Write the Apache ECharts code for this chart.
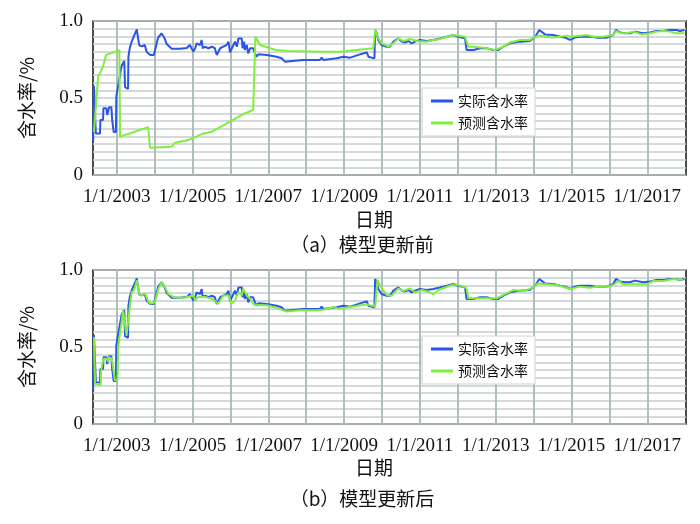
<!DOCTYPE html>
<html>
<head>
<meta charset="utf-8">
<script src="https://cdn.jsdelivr.net/npm/echarts@6/dist/echarts.min.js"></script>
<style>html,body{margin:0;padding:0;background:#fff;}#c{width:700px;height:524px;}</style>
</head>
<body>
<div id="c"></div>
<script>
// ---- data (decimal years, water cut fraction) ----
const yearTicks = [2003,2004,2005,2006,2007,2008,2009,2010,2011,2012,2013,2014,2015,2016,2017];
const yearLabels = [2003,2005,2007,2009,2011,2013,2015,2017];
const rateLabels = [0, 0.5, 1.0];

const actualYears = [2002.38,2002.40,2002.43,2002.45,2002.56,2002.57,2002.64,2002.65,2002.73,2002.75,2002.79,2002.80,2002.86,2002.88,2002.91,2002.92,2002.98,2002.99,2003.04,2003.13,2003.20,2003.22,2003.30,2003.31,2003.35,2003.40,2003.45,2003.53,2003.57,2003.60,2003.67,2003.74,2003.79,2003.88,2003.98,2004.03,2004.09,2004.18,2004.26,2004.32,2004.45,2004.67,2004.85,2004.93,2004.98,2005.02,2005.07,2005.11,2005.20,2005.24,2005.27,2005.33,2005.42,2005.51,2005.59,2005.64,2005.73,2005.81,2005.90,2005.95,2005.99,2006.03,2006.08,2006.12,2006.17,2006.21,2006.30,2006.32,2006.36,2006.38,2006.43,2006.47,2006.52,2006.60,2006.65,2006.69,2006.74,2006.96,2007.22,2007.35,2007.44,2007.49,2007.92,2008.36,2008.41,2008.45,2008.80,2008.98,2009.16,2009.42,2009.51,2009.55,2009.60,2009.64,2009.73,2009.80,2009.82,2009.86,2009.90,2009.99,2010.12,2010.21,2010.30,2010.43,2010.52,2010.61,2010.70,2010.78,2010.87,2011.00,2011.18,2011.35,2011.53,2011.71,2011.88,2012.01,2012.19,2012.23,2012.41,2012.59,2012.76,2012.94,2013.07,2013.20,2013.38,2013.64,2013.90,2014.04,2014.15,2014.30,2014.52,2014.70,2014.83,2014.96,2015.09,2015.22,2015.49,2015.66,2015.93,2016.10,2016.17,2016.28,2016.41,2016.54,2016.67,2016.89,2017.07,2017.24,2017.42,2017.59,2017.77,2017.86,2017.98];
const actualRate = [0.22,0.58,0.58,0.27,0.27,0.357,0.357,0.433,0.433,0.39,0.39,0.44,0.44,0.36,0.357,0.28,0.28,0.51,0.51,0.71,0.74,0.57,0.56,0.77,0.83,0.87,0.87,0.945,0.88,0.84,0.835,0.845,0.80,0.78,0.78,0.83,0.89,0.92,0.89,0.85,0.82,0.82,0.825,0.844,0.833,0.801,0.823,0.855,0.844,0.877,0.823,0.833,0.823,0.833,0.823,0.779,0.823,0.833,0.844,0.866,0.796,0.796,0.844,0.866,0.833,0.887,0.887,0.823,0.866,0.812,0.844,0.790,0.823,0.823,0.790,0.768,0.784,0.779,0.768,0.758,0.736,0.747,0.747,0.747,0.762,0.747,0.758,0.768,0.762,0.783,0.790,0.779,0.796,0.768,0.762,0.758,0.942,0.920,0.877,0.844,0.833,0.833,0.866,0.887,0.866,0.861,0.870,0.855,0.866,0.877,0.870,0.877,0.887,0.898,0.909,0.898,0.887,0.812,0.812,0.823,0.823,0.812,0.812,0.833,0.855,0.866,0.870,0.898,0.942,0.913,0.909,0.898,0.892,0.877,0.892,0.898,0.898,0.892,0.892,0.909,0.942,0.926,0.920,0.920,0.931,0.920,0.926,0.935,0.935,0.942,0.942,0.935,0.942];

const predBeforeYears = [2002.40,2002.43,2002.51,2002.56,2002.65,2002.72,2002.83,2002.96,2003.07,2003.09,2003.83,2003.88,2004.45,2004.54,2004.89,2005.29,2005.51,2005.99,2006.34,2006.60,2006.64,2006.66,2006.78,2007.20,2007.55,2008.40,2008.89,2009.77,2009.82,2009.90,2009.99,2010.17,2010.30,2010.43,2010.56,2010.74,2010.92,2011.18,2011.35,2011.53,2011.88,2012.19,2012.28,2012.41,2012.67,2012.98,2013.20,2013.38,2013.64,2013.90,2014.04,2014.17,2014.34,2014.52,2014.70,2014.87,2015.00,2015.22,2015.40,2015.57,2015.84,2016.10,2016.17,2016.32,2016.45,2016.63,2016.85,2017.07,2017.24,2017.42,2017.59,2017.77,2017.98];
const predBeforeRate = [0.28,0.29,0.638,0.66,0.714,0.78,0.79,0.80,0.81,0.249,0.31,0.177,0.184,0.21,0.227,0.27,0.281,0.346,0.396,0.422,0.43,0.898,0.844,0.812,0.805,0.80,0.80,0.823,0.942,0.887,0.855,0.833,0.855,0.887,0.870,0.883,0.870,0.866,0.877,0.883,0.909,0.898,0.833,0.833,0.827,0.812,0.833,0.861,0.877,0.877,0.898,0.905,0.898,0.892,0.898,0.905,0.898,0.905,0.909,0.898,0.898,0.909,0.935,0.920,0.920,0.931,0.913,0.920,0.931,0.935,0.931,0.920,0.920];

const predAfterYears = [2002.40,2002.43,2002.46,2002.58,2002.59,2002.63,2002.65,2002.74,2002.78,2002.80,2002.87,2002.91,2002.95,2003.02,2003.04,2003.09,2003.13,2003.17,2003.22,2003.26,2003.31,2003.35,2003.40,2003.46,2003.53,2003.60,2003.66,2003.75,2003.84,2003.92,2004.01,2004.10,2004.19,2004.27,2004.36,2004.49,2004.76,2005.02,2005.07,2005.15,2005.33,2005.51,2005.68,2005.81,2005.95,2006.03,2006.12,2006.21,2006.30,2006.34,2006.43,2006.52,2006.60,2006.69,2006.96,2007.22,2007.48,2007.84,2008.28,2008.45,2008.72,2008.85,2008.98,2009.16,2009.60,2009.82,2009.88,2009.99,2010.12,2010.25,2010.43,2010.56,2010.74,2010.87,2011.05,2011.22,2011.36,2011.49,2011.79,2011.93,2012.15,2012.23,2012.28,2012.67,2013.03,2013.20,2013.47,2013.73,2013.95,2014.12,2014.35,2014.61,2014.96,2015.22,2015.49,2015.66,2015.93,2016.10,2016.24,2016.37,2016.72,2016.98,2017.16,2017.42,2017.69,2017.95];
const predAfterRate = [0.565,0.262,0.255,0.255,0.348,0.348,0.424,0.424,0.403,0.435,0.424,0.359,0.284,0.284,0.500,0.511,0.662,0.738,0.727,0.576,0.565,0.771,0.857,0.868,0.933,0.846,0.835,0.846,0.792,0.781,0.792,0.879,0.922,0.890,0.846,0.825,0.818,0.835,0.803,0.825,0.825,0.814,0.781,0.835,0.835,0.781,0.803,0.857,0.835,0.879,0.835,0.814,0.781,0.771,0.771,0.753,0.731,0.738,0.738,0.742,0.760,0.749,0.753,0.760,0.777,0.762,0.935,0.881,0.838,0.833,0.881,0.864,0.881,0.855,0.870,0.859,0.842,0.870,0.898,0.907,0.892,0.881,0.816,0.816,0.816,0.838,0.870,0.864,0.881,0.913,0.907,0.903,0.877,0.892,0.885,0.892,0.892,0.903,0.929,0.907,0.907,0.907,0.929,0.929,0.942,0.935];

const zip = (xs, ys) => xs.map((x, i) => [x, ys[i]]);

const SERIF = '"Liberation Serif", "DejaVu Serif", serif';
const CJK = '"Noto Sans CJK SC", sans-serif';
const BLUE = '#2b55e6';
const GREEN = '#7fee3c';

function xAxisCfg(gi) {
  return {
    type: 'value', gridIndex: gi, min: 2002.375, max: 2018.02,
    axisLine: {show: false},
    axisTick: {show: false, customValues: yearTicks},
    splitLine: {show: true, lineStyle: {color: '#aebdbf', width: 2}},
    axisLabel: {customValues: yearLabels, formatter: v => '1/1/' + Math.round(v),
      fontFamily: SERIF, fontSize: 19, color: '#111', margin: 13}
  };
}
function yAxisCfg(gi) {
  return {
    type: 'value', gridIndex: gi, min: 0, max: 1, interval: 0.05,
    name: '含水率/%', nameLocation: 'middle', nameGap: 57,
    nameTextStyle: {fontFamily: CJK, fontSize: 19, color: '#111'},
    axisLine: {show: false}, axisTick: {show: false},
    splitLine: {show: true, lineStyle: {color: '#c6cece', width: 1.5}},
    axisLabel: {customValues: rateLabels,
      formatter: v => (Math.abs(v) < 1e-6 ? '0' : v.toFixed(1)),
      fontFamily: SERIF, fontSize: 19, color: '#111', margin: 10}
  };
}
function legendCfg(top) {
  return {
    orient: 'vertical', left: 422, top: top,
    data: ['实际含水率', '预测含水率'],
    icon: 'rect', itemWidth: 22, itemHeight: 3, itemGap: 8,
    padding: [6, 7, 6, 9],
    backgroundColor: '#fff', borderColor: '#cfd4d4', borderWidth: 1,
    textStyle: {fontFamily: CJK, fontSize: 14, color: '#111'}
  };
}
function lineSeries(name, color, data, idx) {
  return {type: 'line', name, xAxisIndex: idx, yAxisIndex: idx, data,
    showSymbol: false, symbol: 'none', lineStyle: {color, width: 2}, itemStyle: {color},
    emphasis: {disabled: true}, animation: false};
}
function txt(text, x, y) {
  return {type: 'text', x, y, style: {text, fontFamily: CJK, fontSize: 19, fill: '#111',
    align: 'center', verticalAlign: 'middle', textAlign: 'center', textVerticalAlign: 'middle'}};
}

const chart = echarts.init(document.getElementById('c'), null, {renderer: 'canvas'});
chart.setOption({
  animation: false,
  backgroundColor: '#fff',
  grid: [
    {left: 93, top: 21, width: 593, height: 154, show: true, borderColor: '#111', borderWidth: 1.5, backgroundColor: 'transparent'},
    {left: 93, top: 270, width: 593, height: 154, show: true, borderColor: '#111', borderWidth: 1.5, backgroundColor: 'transparent'}
  ],
  xAxis: [xAxisCfg(0), xAxisCfg(1)],
  yAxis: [yAxisCfg(0), yAxisCfg(1)],
  legend: [legendCfg(88), legendCfg(336)],
  series: [
    lineSeries('实际含水率', BLUE, zip(actualYears, actualRate), 0),
    lineSeries('预测含水率', GREEN, zip(predBeforeYears, predBeforeRate), 0),
    lineSeries('实际含水率', BLUE, zip(actualYears, actualRate), 1),
    lineSeries('预测含水率', GREEN, zip(predAfterYears, predAfterRate), 1)
  ],
  graphic: [
    txt('日期', 374, 220),
    txt('（a）模型更新前', 362, 245),
    txt('日期', 374, 468),
    txt('（b）模型更新后', 362, 499)
  ]
});
</script>
</body>
</html>
